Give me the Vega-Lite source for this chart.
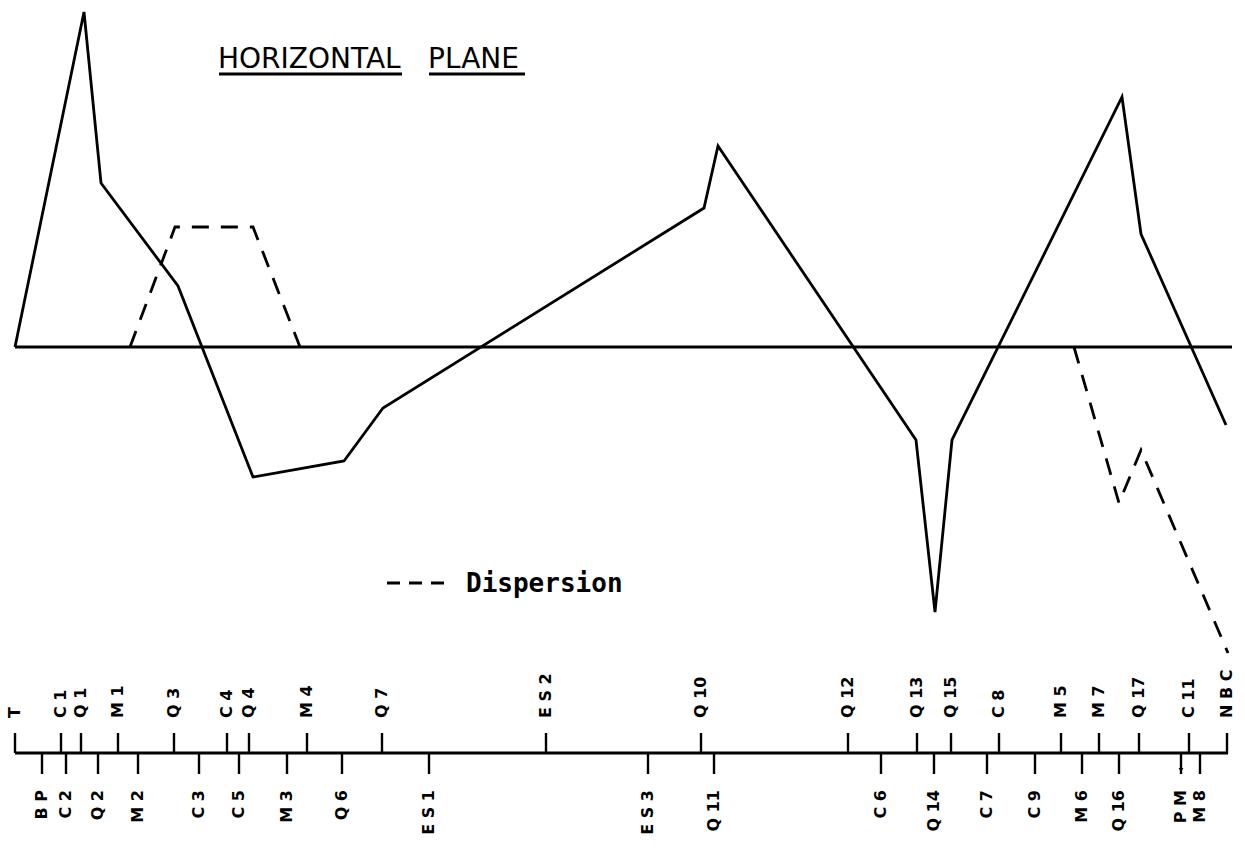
{
  "$schema": "https://vega.github.io/schema/vega-lite/v6.json",
  "width": 1245,
  "height": 848,
  "autosize": {"type": "none"},
  "padding": 0,
  "background": "white",
  "config": {"view": {"stroke": null}},
  "datasets": {
    "one": [{}],
    "beta": [
      {"s": 15, "v": 0}, {"s": 84, "v": 335}, {"s": 101, "v": 164}, {"s": 178, "v": 61},
      {"s": 253, "v": -130}, {"s": 344, "v": -114}, {"s": 383, "v": -61}, {"s": 704, "v": 139},
      {"s": 718, "v": 201}, {"s": 916, "v": -93}, {"s": 935, "v": -265}, {"s": 952, "v": -93},
      {"s": 1122, "v": 250}, {"s": 1141, "v": 113}, {"s": 1226, "v": -78}
    ],
    "disp": [
      {"seg": "a", "s": 130, "v": 0}, {"seg": "a", "s": 175, "v": 120},
      {"seg": "a", "s": 253, "v": 120}, {"seg": "a", "s": 300, "v": 0},
      {"seg": "b", "s": 1074, "v": 0}, {"seg": "b", "s": 1119, "v": -156},
      {"seg": "b", "s": 1141, "v": -103}, {"seg": "b", "s": 1228, "v": -306}
    ],
    "lattice": [
      {"name": "T", "s": 15, "side": "up"},
      {"name": "C 1", "s": 61, "side": "up"},
      {"name": "Q 1", "s": 81, "side": "up"},
      {"name": "M 1", "s": 118, "side": "up"},
      {"name": "Q 3", "s": 174, "side": "up"},
      {"name": "C 4", "s": 227, "side": "up"},
      {"name": "Q 4", "s": 249, "side": "up"},
      {"name": "M 4", "s": 307, "side": "up"},
      {"name": "Q 7", "s": 382, "side": "up"},
      {"name": "E S 2", "s": 546, "side": "up"},
      {"name": "Q 10", "s": 701, "side": "up"},
      {"name": "Q 12", "s": 848, "side": "up"},
      {"name": "Q 13", "s": 917, "side": "up"},
      {"name": "Q 15", "s": 951, "side": "up"},
      {"name": "C 8", "s": 999, "side": "up"},
      {"name": "M 5", "s": 1061, "side": "up"},
      {"name": "M 7", "s": 1099, "side": "up"},
      {"name": "Q 17", "s": 1139, "side": "up"},
      {"name": "C 11", "s": 1189, "side": "up"},
      {"name": "N B C", "s": 1227, "side": "up"},
      {"name": "B P", "s": 42, "side": "down"},
      {"name": "C 2", "s": 66, "side": "down"},
      {"name": "Q 2", "s": 98, "side": "down"},
      {"name": "M 2", "s": 138, "side": "down"},
      {"name": "C 3", "s": 199, "side": "down"},
      {"name": "C 5", "s": 239, "side": "down"},
      {"name": "M 3", "s": 287, "side": "down"},
      {"name": "Q 6", "s": 342, "side": "down"},
      {"name": "E S 1", "s": 429, "side": "down"},
      {"name": "E S 3", "s": 648, "side": "down"},
      {"name": "Q 11", "s": 714, "side": "down"},
      {"name": "C 6", "s": 881, "side": "down"},
      {"name": "Q 14", "s": 934, "side": "down"},
      {"name": "C 7", "s": 987, "side": "down"},
      {"name": "C 9", "s": 1035, "side": "down"},
      {"name": "M 6", "s": 1082, "side": "down"},
      {"name": "Q 16", "s": 1119, "side": "down"},
      {"name": "P M", "s": 1181, "side": "down"},
      {"name": "M 8", "s": 1200, "side": "down"}
    ]
  },
  "layer": [
    {
      "data": {"name": "one"},
      "mark": {"type": "rule", "color": "black", "strokeWidth": 2.8},
      "encoding": {
        "x": {"datum": 15, "type": "quantitative", "scale": {"domain": [0, 1245], "nice": false, "zero": false}, "axis": null},
        "x2": {"datum": 1232},
        "y": {"datum": 0, "type": "quantitative", "scale": {"domain": [-501, 347], "nice": false, "zero": false}, "axis": null}
      }
    },
    {
      "data": {"name": "beta"},
      "mark": {"type": "line", "color": "black", "strokeWidth": 2.8, "strokeJoin": "miter"},
      "encoding": {
        "x": {"field": "s", "type": "quantitative", "scale": {"domain": [0, 1245], "nice": false, "zero": false}, "axis": null},
        "y": {"field": "v", "type": "quantitative", "scale": {"domain": [-501, 347], "nice": false, "zero": false}, "axis": null}
      }
    },
    {
      "data": {"name": "disp"},
      "mark": {"type": "line", "color": "black", "strokeWidth": 2.8, "strokeDash": [17, 12]},
      "encoding": {
        "x": {"field": "s", "type": "quantitative", "scale": {"domain": [0, 1245], "nice": false, "zero": false}, "axis": null},
        "y": {"field": "v", "type": "quantitative", "scale": {"domain": [-501, 347], "nice": false, "zero": false}, "axis": null},
        "detail": {"field": "seg", "type": "nominal"}
      }
    },
    {
      "data": {"name": "one"},
      "mark": {"type": "rule", "color": "black", "strokeWidth": 2.8},
      "encoding": {
        "x": {"datum": 15, "type": "quantitative", "scale": {"domain": [0, 1245], "nice": false, "zero": false}, "axis": null},
        "x2": {"datum": 1228},
        "y": {"datum": -406, "type": "quantitative", "scale": {"domain": [-501, 347], "nice": false, "zero": false}, "axis": null}
      }
    },
    {
      "data": {"name": "lattice"},
      "transform": [{"filter": "datum.side === 'up'"}],
      "mark": {"type": "rule", "color": "black", "strokeWidth": 2.4},
      "encoding": {
        "x": {"field": "s", "type": "quantitative", "scale": {"domain": [0, 1245], "nice": false, "zero": false}, "axis": null},
        "y": {"datum": -406, "type": "quantitative", "scale": {"domain": [-501, 347], "nice": false, "zero": false}, "axis": null},
        "y2": {"datum": -386}
      }
    },
    {
      "data": {"name": "lattice"},
      "transform": [{"filter": "datum.side === 'down'"}],
      "mark": {"type": "rule", "color": "black", "strokeWidth": 2.4},
      "encoding": {
        "x": {"field": "s", "type": "quantitative", "scale": {"domain": [0, 1245], "nice": false, "zero": false}, "axis": null},
        "y": {"datum": -406, "type": "quantitative", "scale": {"domain": [-501, 347], "nice": false, "zero": false}, "axis": null},
        "y2": {"datum": -427}
      }
    },
    {
      "data": {"name": "lattice"},
      "transform": [{"filter": "datum.name === 'P M'"}],
      "mark": {"type": "point", "shape": "triangle-down", "filled": true, "color": "black", "size": 22, "opacity": 1},
      "encoding": {
        "x": {"field": "s", "type": "quantitative", "scale": {"domain": [0, 1245], "nice": false, "zero": false}, "axis": null},
        "y": {"datum": -423, "type": "quantitative", "scale": {"domain": [-501, 347], "nice": false, "zero": false}, "axis": null}
      }
    },
    {
      "data": {"name": "lattice"},
      "transform": [{"filter": "datum.side === 'up'"}],
      "mark": {"type": "text", "angle": 270, "align": "left", "baseline": "middle", "font": "DejaVu Sans", "fontWeight": "bold", "fontSize": 16, "color": "black"},
      "encoding": {
        "x": {"field": "s", "type": "quantitative", "scale": {"domain": [0, 1245], "nice": false, "zero": false}, "axis": null},
        "y": {"datum": -371, "type": "quantitative", "scale": {"domain": [-501, 347], "nice": false, "zero": false}, "axis": null},
        "text": {"field": "name", "type": "nominal"}
      }
    },
    {
      "data": {"name": "lattice"},
      "transform": [{"filter": "datum.side === 'down'"}],
      "mark": {"type": "text", "angle": 270, "align": "right", "baseline": "middle", "font": "DejaVu Sans", "fontWeight": "bold", "fontSize": 16, "color": "black"},
      "encoding": {
        "x": {"field": "s", "type": "quantitative", "scale": {"domain": [0, 1245], "nice": false, "zero": false}, "axis": null},
        "y": {"datum": -443, "type": "quantitative", "scale": {"domain": [-501, 347], "nice": false, "zero": false}, "axis": null},
        "text": {"field": "name", "type": "nominal"}
      }
    },
    {
      "data": {"name": "one"},
      "mark": {"type": "text", "text": "HORIZONTAL", "align": "left", "baseline": "alphabetic", "font": "DejaVu Sans", "fontSize": 28, "color": "black"},
      "encoding": {
        "x": {"datum": 218, "type": "quantitative", "scale": {"domain": [0, 1245], "nice": false, "zero": false}, "axis": null},
        "y": {"datum": 279, "type": "quantitative", "scale": {"domain": [-501, 347], "nice": false, "zero": false}, "axis": null}
      }
    },
    {
      "data": {"name": "one"},
      "mark": {"type": "text", "text": "PLANE", "align": "left", "baseline": "alphabetic", "font": "DejaVu Sans", "fontSize": 28, "color": "black"},
      "encoding": {
        "x": {"datum": 428, "type": "quantitative", "scale": {"domain": [0, 1245], "nice": false, "zero": false}, "axis": null},
        "y": {"datum": 279, "type": "quantitative", "scale": {"domain": [-501, 347], "nice": false, "zero": false}, "axis": null}
      }
    },
    {
      "data": {"name": "one"},
      "mark": {"type": "rule", "color": "black", "strokeWidth": 2.8},
      "encoding": {
        "x": {"datum": 219, "type": "quantitative", "scale": {"domain": [0, 1245], "nice": false, "zero": false}, "axis": null},
        "x2": {"datum": 402},
        "y": {"datum": 273, "type": "quantitative", "scale": {"domain": [-501, 347], "nice": false, "zero": false}, "axis": null}
      }
    },
    {
      "data": {"name": "one"},
      "mark": {"type": "rule", "color": "black", "strokeWidth": 2.8},
      "encoding": {
        "x": {"datum": 429, "type": "quantitative", "scale": {"domain": [0, 1245], "nice": false, "zero": false}, "axis": null},
        "x2": {"datum": 525},
        "y": {"datum": 273, "type": "quantitative", "scale": {"domain": [-501, 347], "nice": false, "zero": false}, "axis": null}
      }
    },
    {
      "data": {"name": "one"},
      "mark": {"type": "rule", "color": "black", "strokeWidth": 2.8, "strokeDash": [13, 9]},
      "encoding": {
        "x": {"datum": 387, "type": "quantitative", "scale": {"domain": [0, 1245], "nice": false, "zero": false}, "axis": null},
        "x2": {"datum": 452},
        "y": {"datum": -236, "type": "quantitative", "scale": {"domain": [-501, 347], "nice": false, "zero": false}, "axis": null}
      }
    },
    {
      "data": {"name": "one"},
      "mark": {"type": "text", "text": "Dispersion", "align": "left", "baseline": "alphabetic", "font": "DejaVu Sans Mono", "fontWeight": "bold", "fontSize": 26, "color": "black"},
      "encoding": {
        "x": {"datum": 466, "type": "quantitative", "scale": {"domain": [0, 1245], "nice": false, "zero": false}, "axis": null},
        "y": {"datum": -245, "type": "quantitative", "scale": {"domain": [-501, 347], "nice": false, "zero": false}, "axis": null}
      }
    }
  ]
}
